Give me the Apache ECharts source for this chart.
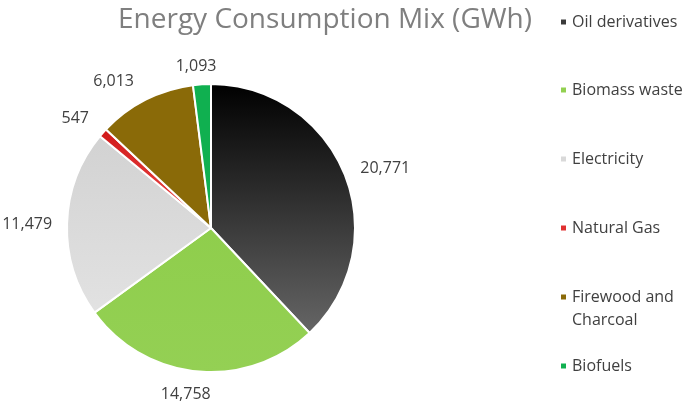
<!DOCTYPE html>
<html><head><meta charset="utf-8">
<script src="https://cdn.jsdelivr.net/npm/echarts@6/dist/echarts.min.js"></script>
<style>html,body{margin:0;padding:0;background:#fff}#c{width:685px;height:403px}</style>
</head><body><div id="c"></div>
<script>
const categories = ['Oil derivatives','Biomass waste','Electricity','Natural Gas','Firewood and Charcoal','Biofuels'];
const values = [20771, 14758, 11479, 547, 6013, 1093];
const legendLabels = ['Oil derivatives','Biomass waste','Electricity','Natural Gas','{g|}\n{t|Firewood and}\n{t|Charcoal}','Biofuels'];

// layout-only label nudges (px)
const labelNudge = [[3,-4],[19,15],[-2,1],[-3,-9],[-3,-11],[20,-10]];

const G = (a,b)=>({type:'linear',x:0,y:0,x2:0,y2:1,colorStops:[{offset:0,color:a},{offset:1,color:b}]});
const colors = [G('#000000','#666666'), G('#8fce4c','#94d054'), G('#d2d2d2','#e2e2e2'), G('#d01818','#f05050'), '#8a6a08', '#10b050'];
const iconColors = ['#3a3a3a','#92d050','#d9d9d9','#e03030','#8a6a08','#10b050'];
const font = 'Open Sans';
const legendTops = [22, 90, 159, 228, 297, 366];
const LH = 23;

const chart = echarts.init(document.getElementById('c'));
const legends = categories.map((name,i)=>{
  const multi = legendLabels[i].includes('\n');
  return {
    data:[{name, itemStyle:{color:iconColors[i]}}],
    left:559, top: legendTops[i] - (multi ? LH*1.5 : LH/2), padding:0,
    orient:'vertical', icon:'rect', itemWidth:7, itemHeight:7,
    selectedMode:false,
    formatter: ()=>legendLabels[i],
    textStyle:{fontFamily:font, fontSize:16, color:'#404040', lineHeight:LH,
      rich:{g:{height:LH, lineHeight:LH, fontSize:16}, t:{fontFamily:font, fontSize:16, color:'#404040', lineHeight:LH}}}
  };
});
chart.setOption({
  animation:false,
  title:{text:'Energy Consumption Mix (GWh)', left:320, textAlign:'center', top:1,
    textStyle:{fontFamily:font, fontSize:28, fontWeight:'normal', color:'#7f7f7f'}},
  legend: legends,
  series:[{
    type:'pie', center:[211,228], radius:144, startAngle:90, clockwise:true,
    avoidLabelOverlap:false,
    itemStyle:{borderColor:'#fff', borderWidth:2},
    label:{show:true, position:'outside', fontFamily:font, fontSize:16, color:'#404040',
      formatter:(p)=>p.value.toLocaleString('en-US')},
    labelLine:{show:false, length:8, length2:0},
    labelLayout:(p)=>({dx:labelNudge[p.dataIndex][0], dy:labelNudge[p.dataIndex][1]}),
    data: categories.map((name,i)=>({name, value:values[i], itemStyle:{color:colors[i]}}))
  }]
});
</script></body></html>
